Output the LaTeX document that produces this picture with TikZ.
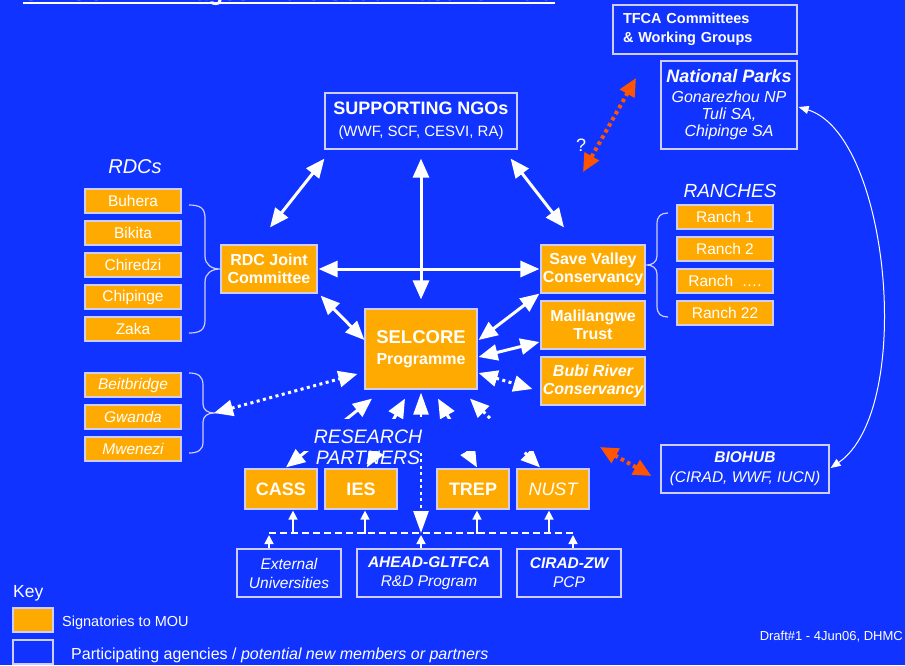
\documentclass[tikz,border=0pt]{standalone}
\usepackage{fontspec}
\setmainfont{Liberation Sans}
\usetikzlibrary{arrows.meta,calc}
\definecolor{bgblue}{RGB}{17,51,255}
\definecolor{orng}{RGB}{255,170,0}
\definecolor{edge}{RGB}{205,205,255}
\definecolor{redor}{RGB}{255,85,0}
\newcommand\fs[2]{\fontsize{#1}{#2}\selectfont}
\begin{document}
\begin{tikzpicture}[x=1pt,y=-1pt,
  obox/.style={draw=edge,line width=1.2pt,fill=orng,text=white,align=center,inner sep=0pt},
  bbox/.style={draw=edge,line width=1.2pt,text=white,align=center,inner sep=0pt},
  smbox/.style={obox,minimum width=96pt,minimum height=24pt,font=\fs{15.5}{18}},
  lbl/.style={text=white,inner sep=0pt},
  bigarr/.style={white,line width=3pt,{Triangle[length=19pt,width=16pt]}-{Triangle[length=19pt,width=16pt]}},
  dotarr/.style={bigarr,dash pattern=on 3pt off 3.5pt},
  midarr/.style={white,line width=2.5pt,dash pattern=on 3pt off 3.5pt,{Triangle[length=22pt,width=15pt]}-{Triangle[length=22pt,width=15pt]}},
  redarr/.style={redor,line width=4pt,dash pattern=on 3.5pt off 3.5pt,{Triangle[length=18pt,width=16pt]}-{Triangle[length=18pt,width=16pt]}},
  smallarr/.style={white,line width=1.5pt,-{Triangle[length=9pt,width=9pt]}},
  dashline/.style={white,line width=2pt,dash pattern=on 7pt off 4pt},
  curvarr/.style={white,line width=1pt,{Triangle[length=10pt,width=8pt]}-{Triangle[length=10pt,width=8pt]}},
  bracel/.style={edge,line width=1.2pt}
]
\useasboundingbox (0,0) rectangle (905,665);
\clip (0,0) rectangle (905,665);
\fill[bgblue] (0,0) rectangle (905,665);

% title (cut off at top)
\node[lbl,anchor=base west,font=\fs{24}{26}\bfseries] (title) at (23,0) {SELCORE Linkages in the South East Lowveld};
\draw[white,line width=1.5pt] ($(title.base west)+(0,3)$) -- ($(title.base east)+(0,3)$);

% top boxes
\node[bbox,align=left,text width=164pt,inner xsep=10pt,minimum height=49pt,font=\fs{14.5}{19}\bfseries] (tfca) at (705,29.5) {TFCA Committees\\\& Working Groups};
\node[bbox,minimum width=136pt,minimum height=88pt,font=\fs{16}{17}\itshape] (np) at (729,105) {{\fs{18}{17}\bfseries National Parks}\\[3pt]Gonarezhou NP\\Tuli SA,\\Chipinge SA};
\node[bbox,minimum width=192pt,minimum height=56pt,font=\fs{15}{21.5}] (ngo) at (421,121) {\fs{18}{21.5}\bfseries SUPPORTING NGOs\\\fs{15}{21.5}\mdseries (WWF, SCF, CESVI, RA)};

% main orange boxes
\node[obox,minimum width=96pt,minimum height=48pt,font=\fs{16}{18}\bfseries] (rdcj) at (269,269) {RDC Joint\\Committee};
\node[obox,minimum width=104pt,minimum height=48pt,font=\fs{16}{18}\bfseries] (svc) at (593,269) {Save Valley\\Conservancy};
\node[obox,minimum width=104pt,minimum height=48pt,font=\fs{16}{18}\bfseries] (mal) at (593,325) {Malilangwe\\Trust};
\node[obox,minimum width=104pt,minimum height=48pt,font=\fs{16}{18}\bfseries\itshape] (bubi) at (593,381) {Bubi River\\Conservancy};
\node[obox,minimum width=112pt,minimum height=80pt,font=\fs{16}{21}\bfseries] (selcore) at (421,349) {\fs{18.5}{21}SELCORE\\\fs{16}{21}Programme};

% RDCs
\node[lbl,font=\fs{20}{22}\itshape] (rdcsl) at (135,167) {RDCs};
\node[smbox] (buhera) at (133,201) {Buhera};
\node[smbox] (bikita) at (133,233) {Bikita};
\node[smbox] (chiredzi) at (133,265) {Chiredzi};
\node[smbox] (chipinge) at (133,297) {Chipinge};
\node[smbox] (zaka) at (133,329) {Zaka};
\node[smbox,font=\fs{15.5}{18}\itshape] (beit) at (133,385) {Beitbridge};
\node[smbox,font=\fs{15.5}{18}\itshape] (gwanda) at (133,417) {Gwanda};
\node[smbox,font=\fs{15.5}{18}\itshape] (mwenezi) at (133,449) {Mwenezi};

% Ranches
\node[lbl,font=\fs{19}{21}\itshape] (ranchl) at (730,191) {RANCHES};
\node[smbox] (r1) at (725,217) {Ranch 1};
\node[smbox] (r2) at (725,249) {Ranch 2};
\node[smbox] (r3) at (725,281) {Ranch \ ….};
\node[smbox] (r4) at (725,313) {Ranch 22};

% Biohub
\node[bbox,minimum width=168pt,minimum height=48pt,font=\fs{15.5}{20}\itshape] (biohub) at (745,469) {\bfseries BIOHUB\\\mdseries (CIRAD, WWF, IUCN)};

% research partners
\node[obox,minimum width=72pt,minimum height=40pt,font=\fs{18}{20}\bfseries] (cass) at (281,489) {CASS};
\node[obox,minimum width=72pt,minimum height=40pt,font=\fs{18}{20}\bfseries] (ies) at (361,489) {IES};
\node[obox,minimum width=72pt,minimum height=40pt,font=\fs{18}{20}\bfseries] (trep) at (473,489) {TREP};
\node[obox,minimum width=72pt,minimum height=40pt,font=\fs{18}{20}\itshape] (nust) at (553,489) {NUST};

\node[bbox,minimum width=104pt,minimum height=48pt,font=\fs{15.5}{19}\itshape] (ext) at (289,573) {External\\Universities};
\node[bbox,minimum width=144pt,minimum height=48pt,font=\fs{15.5}{19}\itshape] (ahead) at (429,573) {\bfseries AHEAD-GLTFCA\\\mdseries R\&D Program};
\node[bbox,minimum width=104pt,minimum height=48pt,font=\fs{15.5}{19}\itshape] (cirad) at (569,573) {\bfseries CIRAD-ZW\\\mdseries PCP};

% braces
\coordinate (b1tip) at (220,269);
\coordinate (b2tip) at (214,413);
\coordinate (b3tip) at (647,265);
\draw[bracel] (189,205) .. controls (200,205) and (205,208) .. (205,218) -- (205,256)
  .. controls (205,265) and (212,269) .. (b1tip) .. controls (212,269) and (205,273) .. (205,282)
  -- (205,320) .. controls (205,330) and (200,333) .. (189,333);
\draw[bracel] (189,373) .. controls (198,373) and (203,376) .. (203,385) -- (203,404)
  .. controls (203,410) and (208,413) .. (b2tip) .. controls (208,413) and (203,416) .. (203,422)
  -- (203,442) .. controls (203,450) and (198,453) .. (189,453);
\draw[bracel] (668,213) .. controls (661,213) and (657,216) .. (657,224) -- (657,256)
  .. controls (657,262) and (652,265) .. (b3tip) .. controls (652,265) and (657,268) .. (657,274)
  -- (657,306) .. controls (657,314) and (661,317) .. (668,317);

% main arrows
\draw[bigarr] ($(ngo.south west)+(0,9)$) -- ($(rdcj.north)+(1,-17)$);
\draw[bigarr] ($(ngo.south)+(0,9)$) -- ($(selcore.north)+(0,-9)$);
\draw[bigarr] ($(ngo.south east)+(-7,9)$) -- ($(svc.north)+(-29,-17)$);
\draw[bigarr] ($(rdcj.east)+(1,0)$) -- ($(svc.west)+(-1,0)$);
\draw[bigarr] ($(rdcj.south east)+(3,2)$) -- ($(selcore.west)+(0,-9)$);
\draw[bigarr] ($(selcore.east)+(1,-9)$) -- ($(svc.south west)+(-1,0)$);
\draw[bigarr] ($(selcore.east)+(1,8)$) -- ($(mal.west)+(-1,17)$);
\draw[dotarr] ($(selcore.east)+(1,24)$) -- ($(bubi.west)+(-8,8)$);
\draw[dotarr] (b2tip) -- ($(selcore.west)+(-7,25)$);

% research arrows
\coordinate (dl) at (269,533);
\coordinate (dmid) at (421,533);
\coordinate (dr) at (573,533);
\draw[bigarr] ($(cass.north)+(5,-1)$) -- ($(selcore.south)+(-49,9)$);
\draw[bigarr] ($(ies.north)+(6,-1)$) -- ($(selcore.south)+(-16,9)$);
\draw[midarr] ($(selcore.south)+(0,3)$) -- (dmid);
\draw[bigarr] ($(trep.north)+(4,-1)$) -- ($(selcore.south)+(17,9)$);
\draw[dotarr] ($(nust.north)+(-13,-1)$) -- ($(selcore.south)+(49,9)$);
\fill[bgblue] (300,419) rectangle (540,451);
\node[lbl,align=center,font=\fs{19.5}{21}\itshape] (rp) at (368,447) {RESEARCH\\PARTNERS};

% dashed link line
\draw[dashline] (dl) -- (dr);
\draw[smallarr] ($(cass.south)+(12,24)$) -- ($(cass.south)+(12,1)$);
\draw[smallarr] ($(ies.south)+(4,24)$) -- ($(ies.south)+(4,1)$);
\draw[smallarr] ($(trep.south)+(4,24)$) -- ($(trep.south)+(4,1)$);
\draw[smallarr] ($(nust.south)+(-4,24)$) -- ($(nust.south)+(-4,1)$);
\draw[smallarr] ($(ext.north)+(-20,0)$) -- ($(dl)+(0,2)$);
\draw[smallarr] ($(ahead.north)+(-8,0)$) -- ($(dmid)+(0,2)$);
\draw[smallarr] ($(cirad.north)+(4,0)$) -- ($(dr)+(0,2)$);

% orange links
\coordinate (oa1) at (636,78);
\coordinate (oa2) at (583,172);
\coordinate (ob1) at (600,447);
\draw[redarr] (oa1) -- (oa2);
\draw[redarr] (ob1) -- ($(biohub.west)+(-9,7)$);
\node[lbl,font=\fs{18}{20}] (q) at (581,145) {?};

% curve NP - Biohub
\draw[curvarr] ($(np.east)+(1,2)$) .. controls (890,135) and (915,410) .. ($(biohub.east)+(1,-1)$);

% key
\node[lbl,anchor=west,font=\fs{17.5}{19}] (keyt) at (13,593) {Key};
\node[obox,minimum width=40pt,minimum height=24pt] (keyo) at (33,620) {};
\node[bbox,minimum width=40pt,minimum height=24pt] (keyb) at (33,652) {};
\node[lbl,anchor=west,font=\fs{14.5}{16}] (sig) at (62,623) {Signatories to MOU};
\node[lbl,anchor=west,font=\fs{16}{18}] (part) at (71,655) {Participating agencies / \textit{potential new members or partners}};
\node[lbl,anchor=east,font=\fs{13}{15}] (draft) at (903,637) {Draft\#1 - 4Jun06, DHMC};
\end{tikzpicture}
\end{document}
